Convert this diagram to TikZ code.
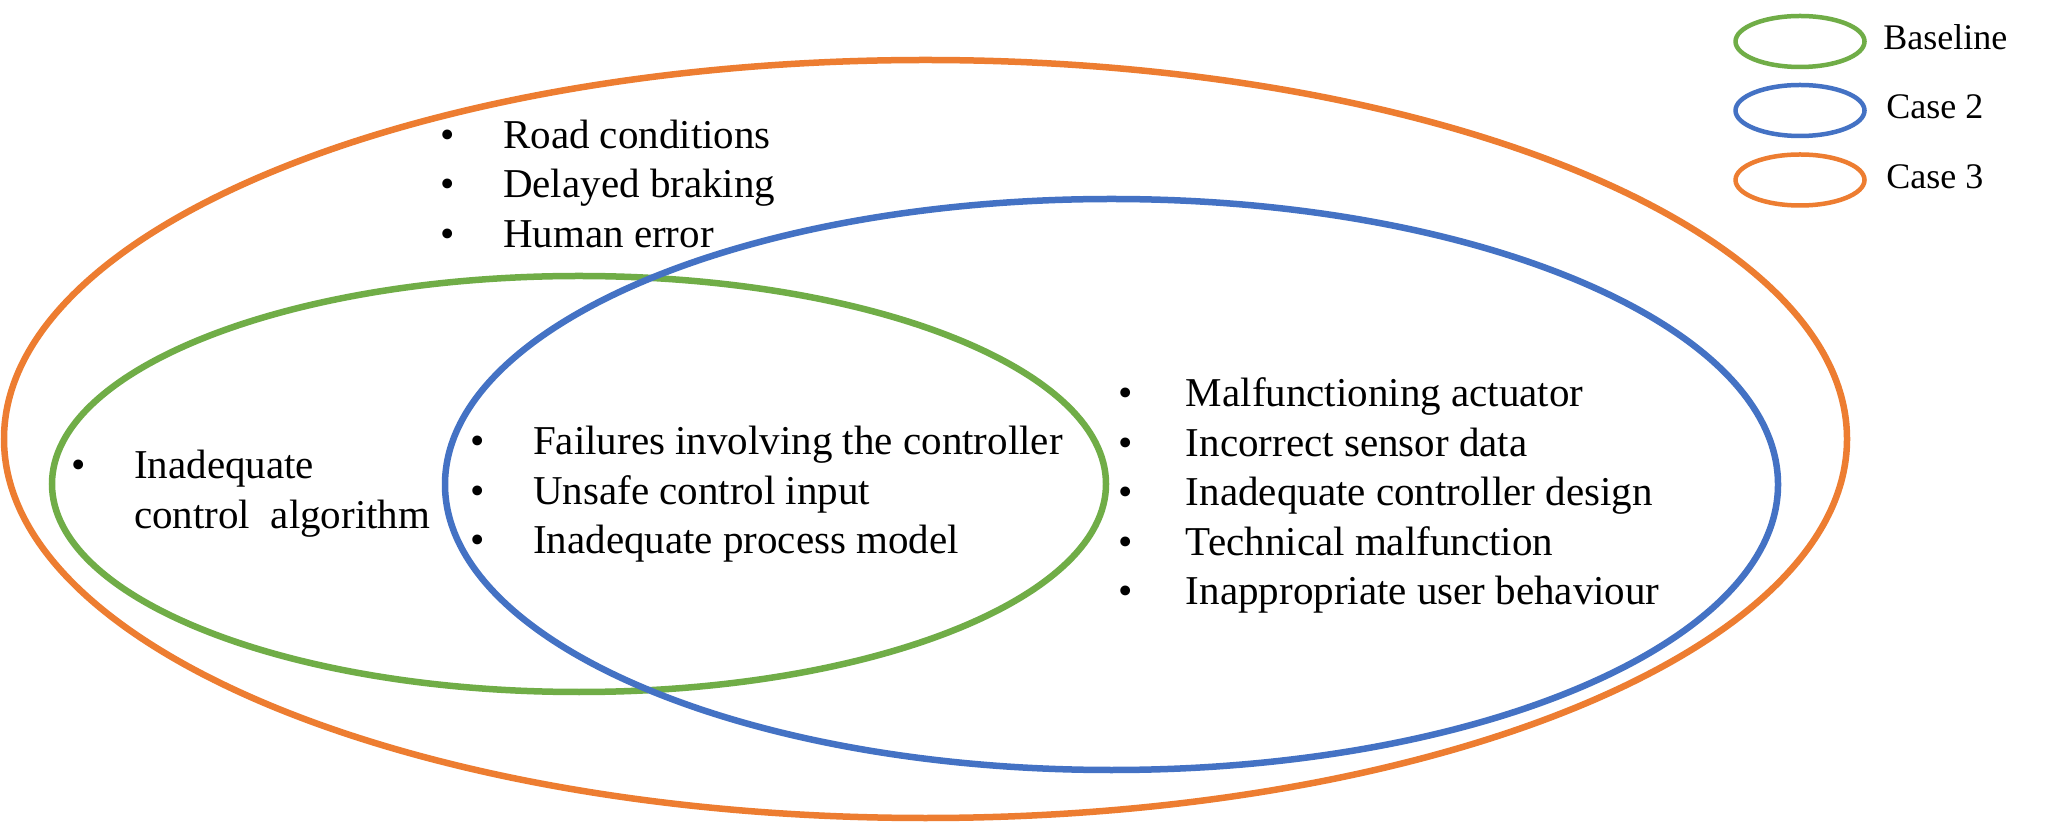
\documentclass[tikz,border=0pt]{standalone}
\usepackage{fontspec}
\setmainfont{Liberation Serif}
\definecolor{cgreen}{HTML}{70AD47}
\definecolor{cblue}{HTML}{4472C4}
\definecolor{corange}{HTML}{ED7D31}
\newcommand\bitem[2][31.6pt]{\makebox[#1][l]{\textbullet}#2}
\newcommand\nobitem[2][31.6pt]{\makebox[#1][l]{}#2}
\begin{document}
\begin{tikzpicture}[x=0.5pt,y=-0.5pt,
  setring/.style={line width=3.25pt},
  keyring/.style={line width=2.25pt},
  listtext/.style={anchor=base west,inner sep=0pt,outer sep=0pt,align=left,
    font=\fontsize{20.5pt}{24.75pt}\selectfont},
  keytext/.style={anchor=base west,inner sep=0pt,font=\fontsize{18pt}{21pt}\selectfont}]
\useasboundingbox[fill=white] (0,0) rectangle (2049,822);
% main sets
\draw[setring,corange] (925.5,439) ellipse [x radius=460.75pt, y radius=189.5pt];
\draw[setring,cgreen] (579,484) ellipse [x radius=263.5pt, y radius=104pt];
\draw[setring,cblue] (1111.5,484.5) ellipse [x radius=333.25pt, y radius=142.75pt];
% lists
\node[listtext] (top) at (440,148.5) {\begin{tabular}[t]{@{}l@{}}
\bitem{Road conditions}\\
\bitem{Delayed braking}\\
\bitem{Human error}
\end{tabular}};
\node[listtext] (left) at (71,479) {\begin{tabular}[t]{@{}l@{}}
\bitem{Inadequate}\\
\nobitem{control~ algorithm}
\end{tabular}};
\node[listtext] (mid) at (470,455) {\begin{tabular}[t]{@{}l@{}}
\bitem{Failures involving the controller}\\
\bitem{Unsafe control input}\\
\bitem{Inadequate process model}
\end{tabular}};
\node[listtext] (right) at (1118,407) {\begin{tabular}[t]{@{}l@{}}
\bitem[34pt]{Malfunctioning actuator}\\
\bitem[34pt]{Incorrect sensor data}\\
\bitem[34pt]{Inadequate controller design}\\
\bitem[34pt]{Technical malfunction}\\
\bitem[34pt]{Inappropriate user behaviour}
\end{tabular}};
% legend
\draw[keyring,cgreen] (1800,41.5) ellipse [x radius=32.25pt, y radius=12.75pt];
\draw[keyring,cblue] (1800,110.5) ellipse [x radius=32.25pt, y radius=12.75pt];
\draw[keyring,corange] (1800,180) ellipse [x radius=32.25pt, y radius=12.75pt];
\node[keytext] (kbase) at (1883,50) {Baseline};
\node[keytext] (kcase2) at (1886,119) {Case 2};
\node[keytext] (kcase3) at (1886,189) {Case 3};
\end{tikzpicture}
\end{document}
